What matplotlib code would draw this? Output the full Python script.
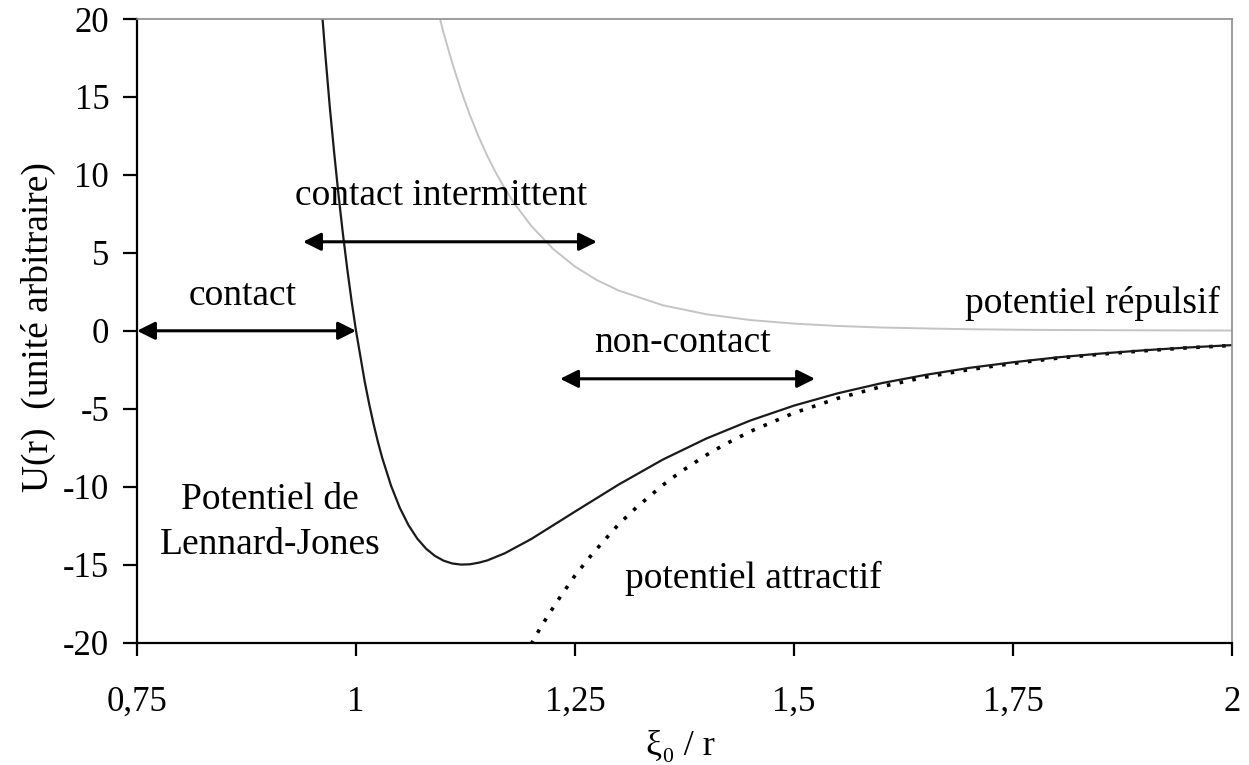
import matplotlib
matplotlib.use("Agg")
import matplotlib.pyplot as plt

# values
x_lj = [0.96, 0.965, 0.97, 0.975, 0.98, 0.985, 0.99, 0.995, 1.0, 1.01, 1.015, 1.02, 1.025,
        1.03, 1.04, 1.05, 1.06, 1.07, 1.08, 1.09, 1.10, 1.11, 1.12, 1.13, 1.14, 1.15, 1.17,
        1.2, 1.25, 1.3, 1.35, 1.4, 1.45, 1.5, 1.55, 1.6, 1.65, 1.7, 1.75, 1.8, 1.85, 1.9, 1.95, 2.0]
u_lj = [21.3, 17.7, 14.4, 11.46, 8.73, 6.24, 3.96, 1.89, 0.0, -3.28, -4.69, -5.97, -7.13,
        -8.17, -9.94, -11.36, -12.48, -13.34, -13.98, -14.44, -14.75, -14.93, -15.0, -14.98, -14.88, -14.73, -14.27,
        -13.36, -11.6, -9.86, -8.27, -6.91, -5.76, -4.80, -4.01, -3.36, -2.83, -2.38, -2.02, -1.71, -1.46, -1.25, -1.07, -0.92]

x_rep = [1.09, 1.10, 1.11, 1.12, 1.13, 1.14, 1.15, 1.16, 1.17, 1.18, 1.2, 1.225, 1.25, 1.275,
         1.3, 1.35, 1.4, 1.45, 1.5, 1.55, 1.6, 1.65, 1.7, 1.75, 1.8, 1.9, 2.0]
u_rep = [21.3, 19.1, 17.15, 15.4, 13.84, 12.45, 11.2, 10.1, 9.12, 8.23, 6.73, 5.25, 4.12, 3.25,
         2.58, 1.64, 1.06, 0.69, 0.46, 0.31, 0.21, 0.15, 0.10, 0.07, 0.05, 0.03, 0.015]

x_att = [1.2, 1.21, 1.22, 1.23, 1.25, 1.27, 1.3, 1.32, 1.35, 1.37, 1.4, 1.42, 1.45, 1.5,
         1.55, 1.6, 1.65, 1.7, 1.75, 1.8, 1.85, 1.9, 1.95, 2.0]
u_att = [-20.1, -19.1, -18.2, -17.33, -15.7, -14.3, -12.4, -11.34, -9.91, -9.07, -7.97, -7.32, -6.46, -5.27,
         -4.33, -3.58, -2.97, -2.49, -2.09, -1.76, -1.50, -1.28, -1.09, -0.94]

x_ticks = [0.75, 1, 1.25, 1.5, 1.75, 2]
x_tick_labels = ["0,75", "1", "1,25", "1,5", "1,75", "2"]
y_ticks = [-20, -15, -10, -5, 0, 5, 10, 15, 20]

# regime arrows: (x start, x end, y)
arrow_contact = (0.75, 1.0, 0.0)
arrow_intermittent = (0.9395, 1.275, 5.71)
arrow_noncontact = (1.233, 1.524, -3.08)

serif = ["Liberation Serif", "DejaVu Serif"]
plt.rcParams["font.family"] = serif
plt.rcParams["axes.unicode_minus"] = False

fig = plt.figure(figsize=(12.49, 7.65), dpi=100)
ax = fig.add_axes([0.1097, 0.1601, 0.8767, 0.8150])

ax.plot(x_rep, u_rep, color="#c4c4c4", lw=1.4)
ax.plot(x_att, u_att, color="black", lw=2.6, linestyle=(0, (1, 2.6)))
ax.plot(x_lj, u_lj, color="#1a1a1a", lw=1.6)

ax.set_xlim(0.75, 2)
ax.set_ylim(-20, 20)
ax.set_xticks(x_ticks)
ax.set_xticklabels(x_tick_labels)
ax.set_yticks(y_ticks)

for side in ["left", "bottom"]:
    ax.spines[side].set_linewidth(1.6)
    ax.spines[side].set_color("black")
for side in ["top", "right"]:
    ax.spines[side].set_linewidth(1.2)
    ax.spines[side].set_color("#8c8c8c")

ax.tick_params(axis="y", direction="out", length=10, width=1.6, pad=10, labelsize=25)
ax.tick_params(axis="x", direction="out", length=9, width=1.6, pad=22, labelsize=25)

for xs, xe, yy in [arrow_contact, arrow_intermittent, arrow_noncontact]:
    ax.annotate("", xy=(xe, yy), xytext=(xs, yy),
                arrowprops=dict(arrowstyle="<|-|>", color="black", lw=2.2,
                                mutation_scale=27, shrinkA=0, shrinkB=0),
                annotation_clip=False)

fs = 27
ax.text(0.871, 1.67, "contact", ha="center", va="baseline", fontsize=fs)
ax.text(1.097, 8.09, "contact intermittent", ha="center", va="baseline", fontsize=fs)
ax.text(1.373, -1.35, "non-contact", ha="center", va="baseline", fontsize=fs)
ax.text(1.841, 1.16, "potentiel répulsif", ha="center", va="baseline", fontsize=fs)
ax.text(0.902, -11.45, "Potentiel de", ha="center", va="baseline", fontsize=fs)
ax.text(0.902, -14.3, "Lennard-Jones", ha="center", va="baseline", fontsize=fs)
ax.text(1.453, -16.5, "potentiel attractif", ha="center", va="baseline", fontsize=fs)

fig.text(38 / 1249, 1 - 327 / 765, "U(r)  (unité arbitraire)", rotation=90,
         ha="center", va="center", fontsize=27)
fig.text(680 / 1249, 1 - 755 / 765, "ξ₀ / r", ha="center", va="baseline", fontsize=26)

fig.savefig("out.png", dpi=100)
